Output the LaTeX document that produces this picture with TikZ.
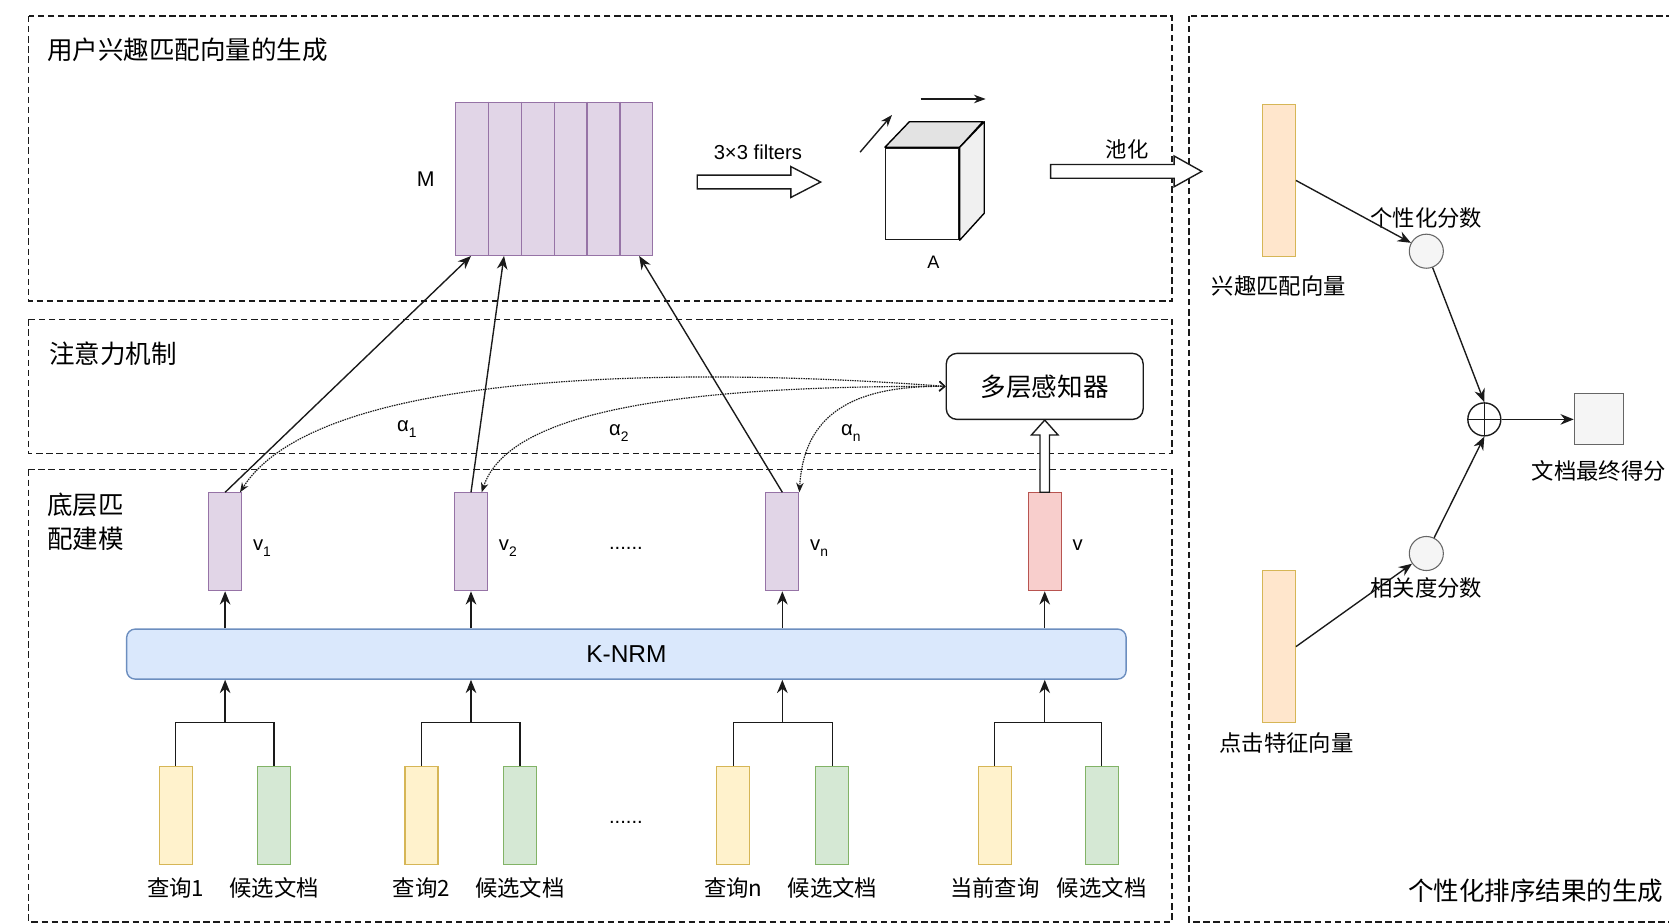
\documentclass[tikz,border=0pt]{standalone}
\usepackage{fontspec}
\setmainfont{Liberation Sans}
\newfontfamily\cjk{Noto Sans CJK SC}
\usetikzlibrary{arrows.meta,positioning,calc}
\definecolor{pfill}{HTML}{E1D5E7}
\definecolor{pline}{HTML}{9673A6}
\definecolor{bfill}{HTML}{DAE8FC}
\definecolor{bline}{HTML}{6C8EBF}
\definecolor{yfill}{HTML}{FFF2CC}
\definecolor{yline}{HTML}{D6B656}
\definecolor{gfill}{HTML}{D5E8D4}
\definecolor{gline}{HTML}{82B366}
\definecolor{rfill}{HTML}{F8CECC}
\definecolor{rline}{HTML}{B85450}
\definecolor{ofill}{HTML}{FFE6CC}
\definecolor{oline}{HTML}{D6B656}
\definecolor{nfill}{HTML}{F5F5F5}
\definecolor{nline}{HTML}{666666}
\definecolor{ink}{HTML}{1A1A1A}
\newcommand{\vsub}[1]{\raisebox{-0.3em}{\fontsize{13}{14}\selectfont #1}}

\begin{document}
\begin{tikzpicture}[x=1pt,y=-1pt,
  panel/.style={draw=ink,line width=1.4pt,dash pattern=on 6pt off 3.5pt},
  bar/.style={draw,line width=1pt,inner sep=0pt,minimum width=31pt,minimum height=92pt},
  lab/.style={font=\cjk\fontsize{21}{25}\selectfont,inner sep=0pt},
  heading/.style={font=\cjk\fontsize{24}{32}\selectfont,inner sep=0pt,anchor=west},
  sym/.style={font=\fontsize{19}{22}\selectfont,inner sep=0pt},
  arr/.style={draw=ink,line width=1.3pt,-{Stealth[length=12.5pt,width=10pt]}},
  attn/.style={draw=ink,line width=1.1pt,dash pattern=on 1.4pt off 0.9pt,{Straight Barb[length=5pt,width=9pt]}-{Stealth[length=9pt,width=7pt]}},
  blockarr/.style={draw=ink,line width=1.3pt,fill=white,line join=miter},
  score/.style={circle,draw=nline,fill=nfill,line width=1pt,minimum size=32pt,inner sep=0pt}]
  \clip (0,0) rectangle (1568,868);
  % panels
  \draw[panel] (27,15) rectangle (1101,283);
  \draw[panel] (27,300) rectangle (1101,426);
  \draw[panel] (27,441) rectangle (1101,866);
  \draw[panel] (1117,15) rectangle (1600,866);
  \node[heading] (t1) at (44,47) {用户兴趣匹配向量的生成};
  \node[heading] (t2) at (46,332) {注意力机制};
  \node[heading,align=left] (t3) at (44,490) {底层匹\\配建模};
  \node[heading,anchor=east] (t4) at (1563,837) {个性化排序结果的生成};

  % matrix M
  \node[draw=pline,fill=pfill,line width=1pt,minimum width=185pt,minimum height=144pt,inner sep=0pt] (mat) at (520.5,168) {};
  \foreach \k in {1,...,5}
    \draw[pline,line width=1pt] ($(mat.north west)!\k/6!(mat.north east)$) -- ($(mat.south west)!\k/6!(mat.south east)$);
  \node[sym,font=\fontsize{20}{22}\selectfont,left=19pt of mat] (mlab) {M};

  % filters and cube A
  \node[sym] (ftxt) at (712,143) {3×3 filters};
  \draw[blockarr] (655,164.5) -- (743,164.5) -- (743,156.5) -- (771,171) -- (743,185.5) -- (743,177.5) -- (655,177.5) -- cycle;
  \node[draw=ink,fill=white,line width=1.3pt,minimum width=69pt,minimum height=86pt,inner sep=0pt] (cube) at (866.5,182) {};
  \draw[fill=gray!22,line width=1.3pt,line join=round] (cube.north west) -- ++(23,-24) -- ++(69,0) -- (cube.north east) -- cycle;
  \draw[fill=gray!12,line width=1.3pt,line join=round] (cube.north east) -- ++(23,-24) -- ++(0,86) -- (cube.south east) -- cycle;
  \node[sym,font=\fontsize{17}{20}\selectfont] (alab) at (877,246) {A};
  \draw[arr,-{Stealth[length=11pt,width=8pt]}] (808,143) -- (838,108);
  \draw[arr,-{Stealth[length=11pt,width=8pt]}] (865,93) -- (926,93);

  % pooling
  \node[lab,font=\cjk\fontsize{20}{24}\selectfont] (pool) at (1059,140) {池化};
  \draw[blockarr] (987,154.5) -- (1103,154.5) -- (1103,146.5) -- (1129,161) -- (1103,175.5) -- (1103,167.5) -- (987,167.5) -- cycle;

  % ranking panel
  \node[bar,draw=oline,fill=ofill,minimum height=143pt] (ivec) at (1201.5,169.5) {};
  \node[lab,below=17pt of ivec] (ivlab) {兴趣匹配向量};
  \node[score] (c1) at (1340,236) {};
  \node[lab,above=5pt of c1] (c1lab) {个性化分数};
  \node[circle,draw=ink,line width=1.3pt,minimum size=31pt,inner sep=0pt,
    path picture={\draw[ink,line width=1.3pt] (path picture bounding box.north) -- (path picture bounding box.south)
      (path picture bounding box.west) -- (path picture bounding box.east);}] (plus) at (1394.5,394) {};
  \node[draw=nline,fill=nfill,line width=1pt,minimum width=46pt,minimum height=48pt,inner sep=0pt] (out) at (1502,394) {};
  \node[lab,below=14pt of out] (outlab) {文档最终得分};
  \node[bar,draw=oline,fill=ofill,minimum height=143pt] (cvec) at (1201.5,607.5) {};
  \node[lab,below=9pt of cvec,xshift=7pt] (cvlab) {点击特征向量};
  \node[score] (c2) at (1340,520) {};
  \node[lab,below=6pt of c2] (c2lab) {相关度分数};
  \draw[arr] (ivec.east) -- (c1);
  \draw[arr] (c1) -- (plus.north);
  \draw[arr] (cvec.east) -- (c2);
  \draw[arr] (c2) -- (plus.south);
  \draw[arr] (plus.east) -- (out.west);

  % attention
  \node[draw=ink,rounded corners=10pt,line width=1.3pt,minimum width=185pt,minimum height=62pt,font=\cjk\fontsize{24}{28}\selectfont] (mlp) at (981.5,363) {多层感知器};
  \node[draw=bline,fill=bfill,rounded corners=8pt,line width=1.3pt,minimum width=939pt,minimum height=47pt,font=\fontsize{23}{26}\selectfont] (knrm) at (588.5,614.5) {K-NRM};

  % vectors v1 .. vn, v
  \foreach \n/\x/\f/\d/\t in {1/211.5/pfill/pline/v\vsub{1}, 2/442.5/pfill/pline/v\vsub{2},
      3/735/pfill/pline/v\vsub{n}, 4/981.5/rfill/rline/v} {
    \node[bar,fill=\f,draw=\d] (vec\n) at (\x,509) {};
    \node[sym,anchor=base west] (vlab\n) at ([xshift=10pt,yshift=-8pt]vec\n.east) {\t};
    \draw[arr] (vec\n |- knrm.north) -- (vec\n.south);
  }
  \node[sym] (dots1) at (588,515) {......};
  \draw[arr] (vec1.north) -- ($(mat.south west)+(15,0)$);
  \draw[arr] (vec2.north) -- ($(mat.south west)+(46,0)$);
  \draw[arr] (vec3.north) -- ($(mat.south east)+(-13,0)$);
  \draw[blockarr] ($(vec4.north)+(-4.5,0)$) -- ($(mlp.south)+(-4.5,14)$) -- ++(-8,0) -- (mlp.south)
    -- ($(mlp.south)+(12.5,14)$) -- ++(-8,0) -- ($(vec4.north)+(4.5,0)$) -- cycle;
  \draw[attn] (mlp.west) .. controls (650,345) and (300,345) .. ([xshift=-2pt]vec1.north east);
  \draw[attn] (mlp.west) .. controls (600,362) and (475,395) .. ([xshift=-6pt]vec2.north east);
  \draw[attn] (mlp.west) .. controls (800,362) and (755,390) .. (vec3.north east);
  \node[sym,anchor=base west] (a1) at (373,405) {α\vsub{1}};
  \node[sym,anchor=base west] (a2) at (572,409) {α\vsub{2}};
  \node[sym,anchor=base west] (an) at (790,409) {α\vsub{n}};

  % inputs: query / candidate document pairs
  \foreach \n/\qx/\dx/\vx/\q in {1/165/257.5/211.5/查询1, 2/396/488.5/442.5/查询2,
      3/689/782/735/查询n, 4/934.5/1035/981.5/当前查询} {
    \node[bar,fill=yfill,draw=yline] (q\n) at (\qx,766) {};
    \node[bar,fill=gfill,draw=gline] (d\n) at (\dx,766) {};
    \node[lab,below=12pt of q\n] (ql\n) {\q};
    \node[lab,below=12pt of d\n] (dl\n) {候选文档};
    \coordinate (j\n) at (\vx,679);
    \draw[ink,line width=1.3pt] (q\n.north) |- (j\n) -| (d\n.north);
    \draw[arr] (j\n) -- (j\n |- knrm.south);
  }
  \node[sym] (dots2) at (588,773) {......};
\end{tikzpicture}
\end{document}
